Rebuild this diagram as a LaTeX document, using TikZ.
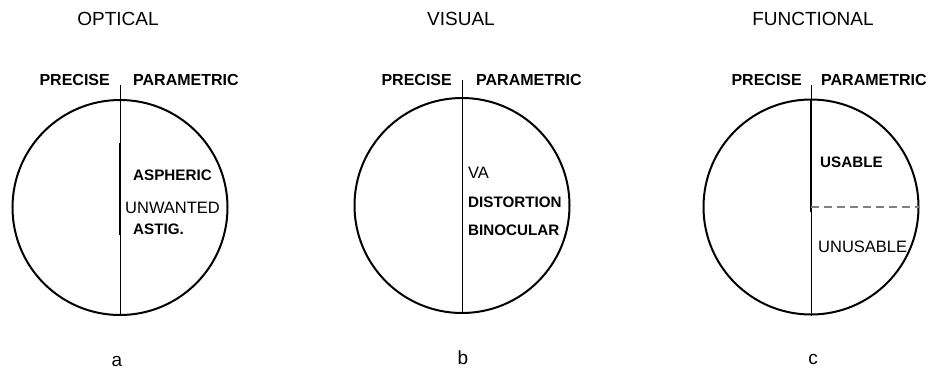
\documentclass[tikz,border=0pt]{standalone}
\usepackage{fontspec}
\setmainfont{Liberation Sans}
\usetikzlibrary{positioning}

\begin{document}
\begin{tikzpicture}[x=1pt, y=-1pt,
		ring/.style={circle, draw, line width=2pt, minimum size=215pt, inner sep=0pt},
		ttl/.style={font=\fontsize{19}{21}\selectfont, inner sep=0pt},
		hd/.style={font=\fontsize{16}{18}\selectfont\bfseries, inner sep=0pt},
		lab/.style={font=\fontsize{16.5}{18}\selectfont, inner sep=0pt, anchor=west},
		blab/.style={lab, font=\fontsize{15.2}{17}\selectfont\bfseries},
		axis/.style={line width=0.8pt},
		axthick/.style={line width=2pt},
		split/.style={gray, line width=1.6pt, dash pattern=on 8pt off 5pt}
		]
		\useasboundingbox (0,0) rectangle (932,370);
		% a: optical
		\node[ttl] (ta) at (118,19) {OPTICAL};
		\node[ring] (ra) at (120,207.5) {};
		\coordinate (pa) at (120,85);
		\coordinate (ka1) at (120,143);
		\coordinate (ka2) at (120,235);
		\node[hd, anchor=east] (preca) at (110,80) {PRECISE};
		\node[hd, anchor=west] (para) at (133,80) {PARAMETRIC};
		\node[blab] (asph) at (133,175) {ASPHERIC};
		\node[lab] (unw) at (125,208) {UNWANTED};
		\node[blab] (astig) at (133,229) {ASTIG.};
		\node[ttl] (capa) at (117,361) {a};
		\draw[axis] (pa) -- (ra.south);
		\draw[axthick] (ka1) -- (ka2);
		% b: visual
		\node[ttl] (tb) at (461,19) {VISUAL};
		\node[ring] (rb) at (462,205.5) {};
		\coordinate (pb) at (462,80);
		\node[hd, anchor=east] (precb) at (452,80) {PRECISE};
		\node[hd, anchor=west] (parb) at (476,80) {PARAMETRIC};
		\node[lab] (va) at (468,173) {VA};
		\node[blab] (dist) at (468,202) {DISTORTION};
		\node[blab] (bino) at (468,230) {BINOCULAR};
		\node[ttl] (capb) at (463,358) {b};
		\draw[axis] (pb) -- (rb.south);
		% c: functional
		\node[ttl] (tc) at (813,19) {FUNCTIONAL};
		\node[ring] (rc) at (811,207) {};
		\coordinate (pc) at (811,85);
		\coordinate (kc) at (811,212);
		\coordinate (dc) at (811,207);
		\node[hd, anchor=east] (precc) at (802,80) {PRECISE};
		\node[hd, anchor=west] (parc) at (821,80) {PARAMETRIC};
		\node[blab] (usab) at (820,162) {USABLE};
		\node[lab] (unus) at (818,247) {UNUSABLE};
		\node[ttl] (capc) at (813,359) {c};
		\draw[axis] (pc) -- (rc.south);
		\draw[axthick] (rc.north) -- (kc);
		\draw[split] (dc) -- (rc.east);
	\end{tikzpicture}
\end{document}
